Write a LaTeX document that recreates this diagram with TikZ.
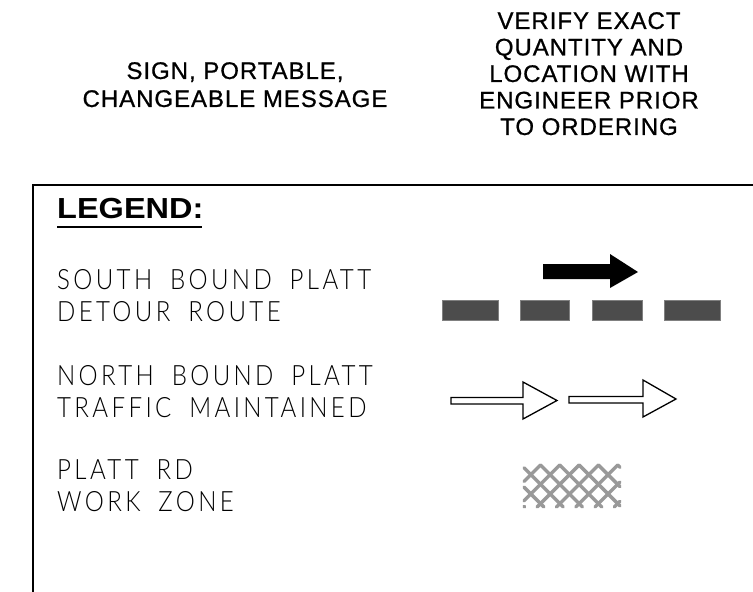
\documentclass[tikz,border=0pt]{standalone}
\usepackage{fontspec}
\setmainfont{Liberation Sans}
\newfontfamily\topfont[LetterSpace=4,FakeBold=0.8]{Liberation Sans}
\newfontfamily\legfont{Liberation Sans}
\IfFontExistsTF{Lato Light}
  {\newfontfamily\thinfont[LetterSpace=14,WordSpace=1.8]{Lato Light}}
  {\newfontfamily\thinfont[LetterSpace=10,WordSpace=1.8]{Liberation Sans}}
\begin{document}
\begin{tikzpicture}[x=1pt,y=-1pt,
  toptext/.style={inner sep=0pt,align=center,anchor=north,font=\topfont\fontsize{24}{27}\selectfont},
  thintext/.style={inner sep=0pt,anchor=base west,xscale=0.86,font=\thinfont\fontsize{28}{32}\selectfont},
  dashbox/.style={fill=black!70,draw=black!50,line width=0.6pt},
  hollow/.style={draw=black,fill=white,line width=1.3pt,line join=miter},
  hatch/.style={draw=black!40,line width=3.4pt,line cap=round}]
\useasboundingbox (0,0) rectangle (753,592);
% frame
\draw[line width=2pt] (33,592) -- (33,185) -- (753,185);
% header texts
\node[toptext,font=\topfont\fontsize{24}{28}\selectfont] (sign) at (235,62)
  {SIGN, PORTABLE,\\CHANGEABLE MESSAGE};
\node[toptext,font=\topfont\fontsize{24}{26.5}\selectfont] (verify) at (589,12)
  {VERIFY EXACT\\QUANTITY AND\\LOCATION WITH\\ENGINEER PRIOR\\TO ORDERING};
% legend title
\node[inner sep=0pt,anchor=base west,xscale=1.12,font=\legfont\bfseries\fontsize{29}{32}\selectfont] (legend) at (57,218) {LEGEND:};
\draw[line width=1.5pt] (legend.base west) ++(0,9) -- ++(145,0);
% legend texts
\node[thintext] (sb1) at (57,289) {SOUTH BOUND PLATT};
\node[thintext] (sb2) at (57,321) {DETOUR ROUTE};
\node[thintext] (nb1) at (57,385) {NORTH BOUND PLATT};
\node[thintext] (nb2) at (57,417) {TRAFFIC MAINTAINED};
\node[thintext] (wz1) at (57,479) {PLATT RD};
\node[thintext] (wz2) at (57,511) {WORK ZONE};
% black arrow
\fill[black] (543,264) -- (610,264) -- (610,254) -- (638,272) -- (610,288) -- (610,279) -- (543,279) -- cycle;
% detour dashes
\draw[dashbox] (442,300) rectangle (498,320);
\draw[dashbox] (520,300) rectangle (569,320);
\draw[dashbox] (592,300) rectangle (642,320);
\draw[dashbox] (664,300) rectangle (720,320);
% hollow arrows
\draw[hollow] (451,397.5) -- (523,397.5) -- (523,382) -- (557,400.5) -- (523,419) -- (523,404) -- (451,404) -- cycle;
\draw[hollow] (569,396.5) -- (643,396.5) -- (643,380) -- (676,399) -- (643,417) -- (643,403) -- (569,403) -- cycle;
% work zone hatch (segments trimmed to the zone, round ends)
\foreach \k in {-6,...,10}{
  \pgfmathsetmacro{\xk}{540.5+19.3*\k}
  \pgfmathsetmacro{\ta}{max(0,524-\xk)}
  \pgfmathsetmacro{\tb}{min(42,620-\xk)}
  \pgfmathparse{\ta<\tb ? 1 : 0}
  \ifnum\pgfmathresult=1
    \draw[hatch] (\xk+\ta,465+\ta) -- (\xk+\tb,465+\tb);
  \fi
  \pgfmathsetmacro{\tc}{max(0,\xk-620)}
  \pgfmathsetmacro{\td}{min(42,\xk-524)}
  \pgfmathparse{\tc<\td ? 1 : 0}
  \ifnum\pgfmathresult=1
    \draw[hatch] (\xk-\tc,465+\tc) -- (\xk-\td,465+\td);
  \fi
}
\end{tikzpicture}
\end{document}
